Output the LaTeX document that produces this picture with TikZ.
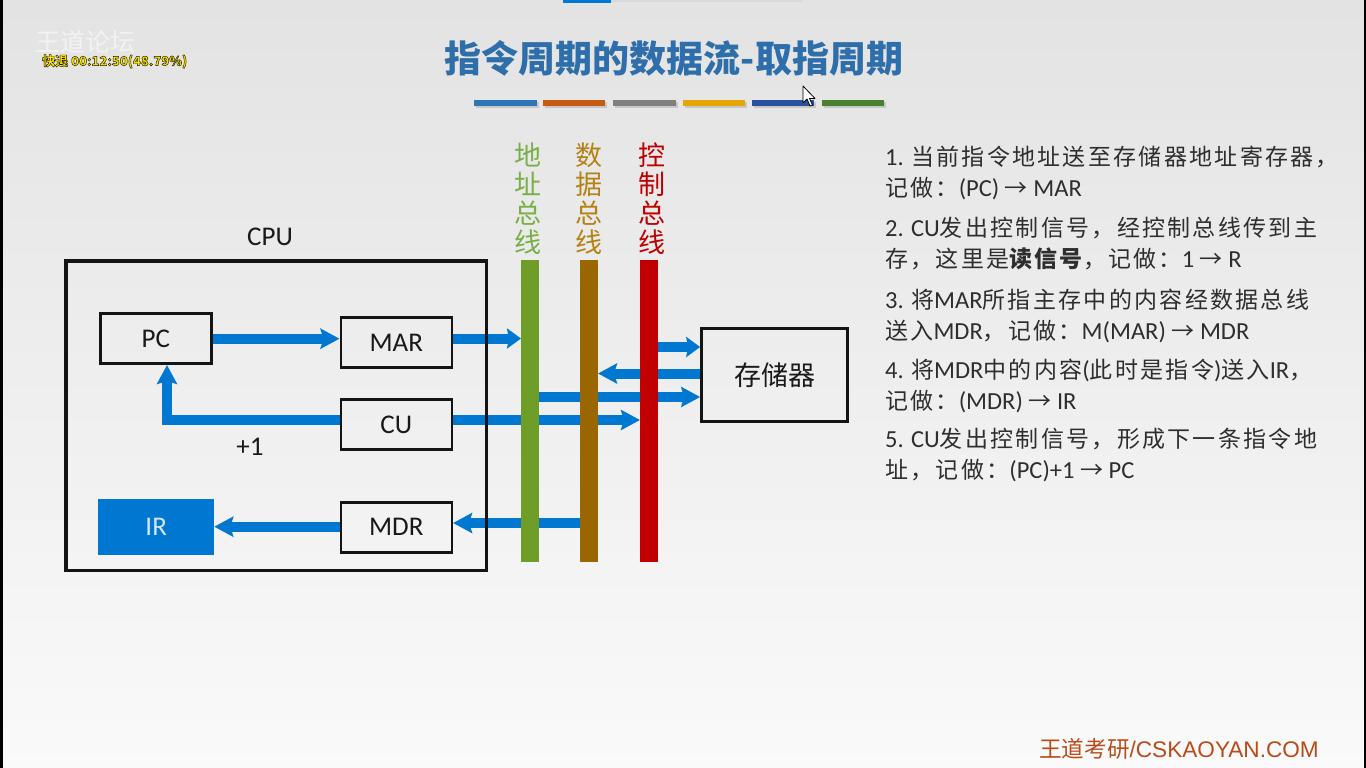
\documentclass[tikz,border=0pt]{standalone}
\usepackage{fontspec}
\setmainfont{Carlito}
\newfontfamily\calib{Carlito}
\newfontfamily\zh{Noto Sans CJK SC}
\newfontfamily\zhsp[LetterSpace=10]{Noto Sans CJK SC}
\newfontfamily\arialf{Liberation Sans}
\usetikzlibrary{arrows.meta}
\definecolor{titleblue}{RGB}{46,110,170}
\definecolor{barA}{RGB}{46,117,182}
\definecolor{barB}{RGB}{197,90,17}
\definecolor{barC}{RGB}{127,127,127}
\definecolor{barD}{RGB}{228,166,0}
\definecolor{barE}{RGB}{40,82,160}
\definecolor{barF}{RGB}{72,128,45}
\definecolor{arrblue}{RGB}{0,120,210}
\definecolor{abuscol}{RGB}{110,158,40}
\definecolor{abustxt}{RGB}{120,175,70}
\definecolor{dbuscol}{RGB}{153,102,0}
\definecolor{dbustxt}{RGB}{180,130,20}
\definecolor{cbuscol}{RGB}{192,0,0}
\definecolor{logocol}{RGB}{185,75,25}
\definecolor{irtext}{RGB}{215,230,245}
\definecolor{ovyellow}{RGB}{255,228,0}
\newcommand\lat[1]{{\calib\fontsize{24.5}{31}\selectfont #1}}
\newcommand\outl[1]{{\color{ovyellow}\special{pdf:code 2 Tr 0.45 w 0.1 0.1 0 RG}#1\special{pdf:code 0 Tr}}}
\tikzset{
  reg/.style={draw=black!92, line width=2.6pt, minimum width=111pt, minimum height=50pt, inner sep=0pt, text=black!90, font=\calib\fontsize{27}{30}\selectfont},
  bus/.style={draw=none, minimum width=18pt, minimum height=302pt, inner sep=0pt},
  buslbl/.style={align=center, inner sep=0pt, font=\zh\fontsize{27}{28.8}\selectfont},
  arr/.style={draw=arrblue, line width=10pt, -{Stealth[length=19pt,width=20pt,inset=3pt]}},
  arrs/.style={draw=arrblue, line width=10pt, -{Stealth[length=14pt,width=20pt,inset=2pt]}},
  rtxt/.style={anchor=base west, inner sep=0pt, text=black!82, font=\zhsp\fontsize{23}{31}\selectfont}
}
\begin{document}
\begin{tikzpicture}[x=1pt,y=-1pt]
\useasboundingbox (0,0) rectangle (1366,768);
\shade[top color=black!11, bottom color=black!2] (0,0) rectangle (1366,768);
\fill[black] (0,0) rectangle (3,768);
\fill[black] (1364,0) rectangle (1366,768);
\fill[arrblue] (563,0) rectangle (611,3);
\fill[white!85!black] (611,0) rectangle (803,2);

% overlay texts
\node[anchor=west, inner sep=0pt, text=white, opacity=0.55, font=\zh\fontsize{25}{28}\selectfont] (wm) at (35,41.5) {王道论坛};
\node[anchor=west, inner sep=0pt, font=\zh\bfseries\fontsize{13}{15}\selectfont] (ov) at (42,61.5) {\outl{快退 00:12:50(48.79\%)}};

% title
\node[inner sep=0pt, text=titleblue, font=\zh\bfseries\fontsize{37}{41}\selectfont] (title) at (674,58.5) {指令周期的数据流-取指周期};
\foreach \xa/\xb/\c in {474/537/barA,543/605/barB,613/676/barC,683/745/barD,752/814/barE,822/884/barF}{
  \fill[black!22] (\xa+1.5,101.5) rectangle (\xb+1.5,107.5);
  \fill[\c] (\xa,100) rectangle (\xb,106);
}

% cursor
\draw[fill=white, draw=black, line width=0.8pt, line join=round] (803,86) -- (803,103) -- (807,99) -- (810,106) -- (812.5,105) -- (809.5,98.5) -- (815,98.5) -- cycle;

% registers
\node[reg] (pc) at (155.8,338.7) {PC};
\node[reg] (mar) at (396.3,342.5) {MAR};
\node[reg] (cu) at (396.3,424.7) {CU};
\node[reg] (mdr) at (396.3,527.2) {MDR};
\node[fill=arrblue, minimum width=115.7pt, minimum height=56pt, inner sep=0pt, text=irtext, font=\calib\fontsize{27}{30}\selectfont] (ir) at (156.2,527) {IR};
\node[inner sep=0pt, font=\calib\fontsize{27}{30}\selectfont, text=black!90] (cpulbl) at (270,237.3) {CPU};
\node[inner sep=0pt, font=\calib\fontsize{27}{30}\selectfont, text=black!90] (plus) at (250,446.7) {+1};
\node[reg, minimum width=146pt, minimum height=93.6pt, line width=3pt, font=\zh\fontsize{27}{30}\selectfont] (mem) at (774.7,375) {存储器};

% bus positions (for arrows)
\coordinate (abusW) at (521,411);
\coordinate (abusE) at (539,411);
\coordinate (dbusW) at (580,411);
\coordinate (dbusE) at (598,411);
\coordinate (cbusW) at (640,411);
\coordinate (cbusE) at (658,411);

% arrows (behind buses)
\draw[arr] (pc.east |- 0,338.7) -- (mar.west |- 0,338.7);
\draw[arrs] (mar.east |- 0,338.5) -- (abusW |- 0,338.5);
\draw[arr] (cu.west |- 0,420) -| (pc.south -| 167,0);
\draw[arr] (cu.east |- 0,420) -- (cbusW |- 0,420);
\draw[arr] (mdr.west |- 0,526.7) -- (ir.east |- 0,526.7);
\draw[arr] (dbusW |- 0,523) -- (mdr.east |- 0,523);
\draw[arrs] (cbusE |- 0,347) -- (mem.west |- 0,347);
\draw[arr] (mem.west |- 0,373.5) -- (dbusE |- 0,373.5);
\draw[arr] (abusE |- 0,397) -- (mem.west |- 0,397);

% buses
\node[bus, fill=abuscol] (abus) at (530,411) {};
\node[bus, fill=dbuscol] (dbus) at (589,411) {};
\node[bus, fill=cbuscol] (cbus) at (649,411) {};
\node[buslbl, text=abustxt] (albl) at (528,198.5) {地\\址\\总\\线};
\node[buslbl, text=dbustxt] (dlbl) at (589,198.5) {数\\据\\总\\线};
\node[buslbl, text=cbuscol] (clbl) at (652,198.5) {控\\制\\总\\线};

% CPU border
\draw[black!92, line width=3.2pt] (66,261) rectangle (486.5,570.5);

% right text
\node[rtxt] (t1a) at (885,165.5) {\lat{1. }当前指令地址送至存储器地址寄存器，};
\node[rtxt] (t1b) at (885,196.5) {记做：\lat{(PC) }→\lat{ MAR}};
\node[rtxt] (t2a) at (885,236.5) {\lat{2. CU}发出控制信号，经控制总线传到主};
\node[rtxt] (t2b) at (885,267.5) {存，这里是{\bfseries 读信号}，记做：\lat{1 }→\lat{ R}};
\node[rtxt] (t3a) at (885,308) {\lat{3. }将\lat{MAR}所指主存中的内容经数据总线};
\node[rtxt] (t3b) at (885,339) {送入\lat{MDR}，记做：\lat{M(MAR) }→\lat{ MDR}};
\node[rtxt] (t4a) at (885,378.5) {\lat{4. }将\lat{MDR}中的内容\lat{(}此时是指令\lat{)}送入\lat{IR}，};
\node[rtxt] (t4b) at (885,409.5) {记做：\lat{(MDR) }→\lat{ IR}};
\node[rtxt] (t5a) at (885,447.5) {\lat{5. CU}发出控制信号，形成下一条指令地};
\node[rtxt] (t5b) at (885,478.5) {址，记做：\lat{(PC)+1 }→\lat{ PC}};

% logo
\node[inner sep=0pt, text=logocol, font=\fontsize{22.6}{26}\selectfont] (logo) at (1179,749) {{\zh 王道考研}{\arialf /CSKAOYAN.COM}};
\end{tikzpicture}
\end{document}
